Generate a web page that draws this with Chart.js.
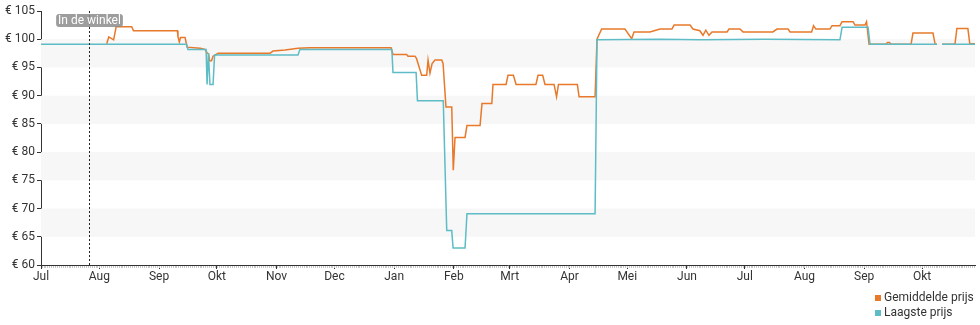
<!DOCTYPE html>
<html>
<head>
<meta charset="utf-8">
<script src="https://cdn.jsdelivr.net/npm/chart.js@4/dist/chart.umd.min.js"></script>
<style>
html,body{margin:0;padding:0;background:#fff;}
#wrap{position:relative;width:980px;height:325px;}
#legend{position:absolute;left:875px;top:290px;font:12px Roboto, sans-serif;color:#333;line-height:14.5px;white-space:nowrap;}
#legend .sw{display:inline-block;width:6px;height:6px;margin-right:3px;vertical-align:0px;}
</style>
</head>
<body>
<div id="wrap">
<canvas id="c" width="980" height="325"></canvas>
<div id="legend"></div>
</div>
<script>
// x values are days since 1 Jul 2023
const seriesNames = ['Gemiddelde prijs', 'Laagste prijs'];
const seriesColors = ['#e8792b', '#5dbcc5'];

const avgDays = [34.8,35.9,38.4,39.7,47.8,48.7,71.5,71.8,72.5,73.1,75.5,76.5,83.3,85.8,86.9,87.7,88.2,89.2,90.0,92.6,
  119.6,121.1,127.4,134.1,140.3,182.4,183.4,190.5,191.2,194.8,195.6,196.4,198.3,200.9,201.6,202.6,203.7,205.2,208.7,209.4,
  210.9,213.9,214.7,215.6,220.8,221.8,228.6,229.6,234.7,235.3,242.1,243.1,245.9,247.3,257.6,258.7,261.1,262.3,267.0,268.3,
  269.3,279.1,280.0,288.3,289.3,291.7,303.8,307.3,308.5,316.8,322.0,328.2,329.3,337.6,339.1,342.7,344.3,345.8,347.4,349.0,
  356.8,357.8,363.5,365.1,380.6,382.7,388.5,389.5,400.7,401.7,402.9,410.2,411.3,415.4,416.5,422.2,423.2,428.4,429.2,430.5,
  439.3,440.1,441.1,441.9,452.3,453.3,463.7,464.8,465.8,467.0,468.4,475.1,476.1,481.8,482.8,485.5];
const avgPrices = [99.2,100.4,99.9,102.2,102.2,101.5,101.5,100.4,99.5,100.3,100.3,98.6,98.4,98.2,97.6,97.4,96.2,96.2,97.0,97.5,
  97.5,97.9,98.1,98.4,98.5,98.5,97.3,97.3,97.0,97.0,96.6,95.7,93.6,93.6,96.3,94.0,95.7,96.3,96.3,95.7,
  88.0,88.0,76.8,82.6,82.6,84.7,84.7,88.6,88.6,92.0,92.0,93.6,93.6,92.0,92.0,93.6,93.6,92.0,92.0,89.8,
  92.0,92.0,89.8,89.8,100.0,101.8,101.8,100.1,101.3,101.3,101.8,101.8,102.5,102.5,101.8,101.5,100.7,101.6,100.7,101.3,
  101.3,101.8,101.8,101.3,101.3,101.8,101.8,101.3,101.3,102.4,101.8,101.8,102.4,102.4,103.1,103.1,102.5,102.5,103.1,99.1,
  99.1,99.4,99.4,99.1,99.1,101.1,101.1,99.1,99.1,null,99.1,99.1,101.9,101.9,99.2,99.2];

const lowDays = [0.7,76.3,77.0,86.4,86.9,87.6,88.4,90.0,90.8,134.1,135.1,182.8,183.4,195.4,196.1,209.5,211.3,213.9,214.6,220.8,
  221.8,288.3,289.3,322.0,342.7,376.5,415.4,416.5,430.0,431.0,465.8,467.0,468.4,485.5];
const lowPrices = [99.1,99.1,98.2,98.2,92.0,97.5,92.0,92.0,97.2,97.2,98.2,98.2,94.1,94.1,89.1,89.1,66.1,66.1,63.0,63.0,
  69.1,69.1,99.9,100.0,99.9,100.0,99.9,102.1,102.1,99.1,99.1,null,99.1,99.1];

const monthTickDays = [0.7,31,62,92,123,153,184,215,244,275,305,336,366,397,428,458];
const monthLabels = ['Jul','Aug','Sep','Okt','Nov','Dec','Jan','Feb','Mrt','Apr','Mei','Jun','Jul','Aug','Sep','Okt'];
const yMin = 60, yMax = 105, yStep = 5;
const bandRanges = [[65,70],[75,80],[85,90],[95,100]];
const storeDay = 25.8;
const storeLabel = 'In de winkel';

function pts(xs, ys){ return xs.map((x,i)=>({x:x, y:ys[i]})); }

document.getElementById('legend').innerHTML = seriesNames.map((n,i)=>
  '<div><span class="sw" style="background:'+seriesColors[i]+'"></span>'+n+'</div>').join('');

const bandsPlugin = {
  id:'bands',
  beforeDatasetsDraw(chart){
    const {ctx, chartArea:a, scales:{y}} = chart;
    ctx.save();
    ctx.fillStyle = '#f7f7f7';
    bandRanges.forEach(([lo,hi])=>{
      const t = y.getPixelForValue(hi), b = y.getPixelForValue(lo);
      ctx.fillRect(a.left, t, a.right-a.left, b-t);
    });
    ctx.restore();
  }
};

const extrasPlugin = {
  id:'extras',
  afterDatasetsDraw(chart){
    const {ctx, chartArea:a, scales:{x}} = chart;
    ctx.save();
    // minor ticks under x axis
    ctx.strokeStyle = '#c8c8c8';
    ctx.lineWidth = 1;
    for (let d = Math.ceil(x.min); d <= x.max; d += 1) {
      const px = Math.round(x.getPixelForValue(d)) + 0.5;
      ctx.beginPath(); ctx.moveTo(px, a.bottom+1); ctx.lineTo(px, a.bottom+3); ctx.stroke();
    }
    // store line
    const sx = Math.round(x.getPixelForValue(storeDay)) + 0.5;
    ctx.strokeStyle = '#222';
    ctx.setLineDash([2,2]);
    ctx.beginPath(); ctx.moveTo(sx, a.top); ctx.lineTo(sx, a.bottom); ctx.stroke();
    ctx.setLineDash([]);
    ctx.font = '12px Roboto, sans-serif';
    const w = ctx.measureText(storeLabel).width + 4;
    const h = 13, bx = sx - w/2, by = a.top + 3;
    ctx.fillStyle = 'rgba(140,140,140,0.85)';
    ctx.beginPath();
    ctx.roundRect(bx, by, w, h, 3);
    ctx.fill();
    ctx.fillStyle = '#fff';
    ctx.textAlign = 'center';
    ctx.textBaseline = 'middle';
    ctx.fillText(storeLabel, sx, by + h/2 + 0.5);
    ctx.restore();
  }
};

new Chart(document.getElementById('c'), {
  type:'line',
  data:{
    datasets:[
      {label:seriesNames[0], data:pts(avgDays, avgPrices), borderColor:seriesColors[0], backgroundColor:seriesColors[0],
       borderWidth:1.5, pointRadius:0, tension:0, spanGaps:false, order:1},
      {label:seriesNames[1], data:pts(lowDays, lowPrices), borderColor:seriesColors[1], backgroundColor:seriesColors[1],
       borderWidth:1.5, pointRadius:0, tension:0, spanGaps:false, order:0}
    ]
  },
  options:{
    responsive:false,
    animation:false,
    devicePixelRatio:1,
    layout:{padding:{top:11, right:5, left:0, bottom:0}},
    plugins:{legend:{display:false}, tooltip:{enabled:false}},
    scales:{
      x:{
        type:'linear', min:0.7, max:485.5,
        afterBuildTicks(s){ s.ticks = monthTickDays.map(v=>({value:v})); },
        afterFit(s){ s.height = 60; },
        ticks:{autoSkip:false, maxRotation:0, padding:1, color:'#333', font:{family:'Roboto', size:12},
          callback:(v,i)=>monthLabels[i]},
        grid:{drawOnChartArea:false, tickLength:4, color:'#333'},
        border:{display:true, color:'#333', width:1}
      },
      y:{
        min:yMin, max:yMax,
        afterFit(s){ s.width = 41; },
        ticks:{stepSize:yStep, padding:2, color:'#333', font:{family:'Roboto', size:12},
          callback:v=>'€ ' + v},
        grid:{drawOnChartArea:false, tickLength:4, color:'#333'},
        border:{display:true, color:'#333', width:1}
      }
    }
  },
  plugins:[bandsPlugin, extrasPlugin]
});
</script>
</body>
</html>
